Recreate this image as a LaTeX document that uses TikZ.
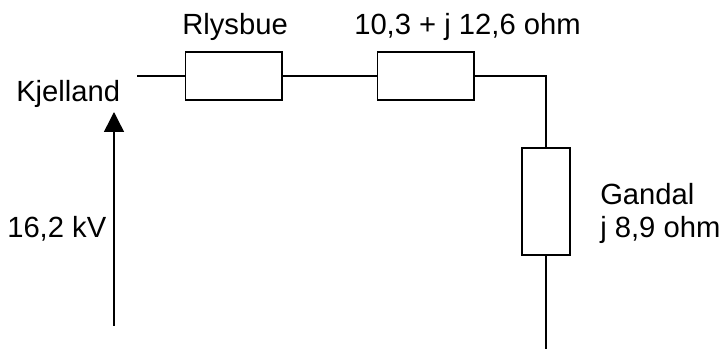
\documentclass[tikz,border=0pt]{standalone}
\usepackage{fontspec}
\setmainfont{Liberation Sans}
\usetikzlibrary{arrows.meta}
\tikzset{
  px/.style={x=0.75pt,y=-0.75pt},
  wire/.style={draw=black,line width=1.1pt},
  imped/.style={draw=black,fill=white,line width=1.1pt,rectangle,inner sep=0pt,minimum width=72.4pt,minimum height=35.8pt},
  impedv/.style={draw=black,fill=white,line width=1.1pt,rectangle,inner sep=0pt,minimum width=36pt,minimum height=80.25pt},
  lbl/.style={font=\fontsize{21.9pt}{26pt}\selectfont,inner sep=0pt,anchor=base west,align=left},
}
\begin{document}
\begin{tikzpicture}[px]
\useasboundingbox (0,0) rectangle (722,349);
\node[imped] (r1) at (233.7,76) {};
\node[imped] (r2) at (425.8,76) {};
\node[impedv] (r3) at (545.8,201.5) {};
\coordinate (start) at (137,76);
\coordinate (corner) at (545.8,76);
\coordinate (stop) at (545.8,349);
\coordinate (ua) at (114,326);
\coordinate (ub) at (114,112);
\draw[wire] (start) -- (r1.west);
\draw[wire] (r1.east) -- (r2.west);
\draw[wire] (r2.east) -- (corner) -- (r3.north);
\draw[wire] (r3.south) -- (stop);
\draw[wire,-{Triangle[length=15pt,width=15pt]}] (ua) -- (ub);
\node[lbl] (t1) at (182,35) {Rlysbue};
\node[lbl] (t2) at (354,35) {10,3 + j 12,6 ohm};
\node[lbl] (t3) at (16,101.5) {Kjelland};
\node[lbl] (t4) at (7,237.5) {16,2 kV};
\node[lbl] (t5) at (600,205) {Gandal};
\node[lbl] (t6) at (600,238) {j 8,9 ohm};
\end{tikzpicture}
\end{document}
